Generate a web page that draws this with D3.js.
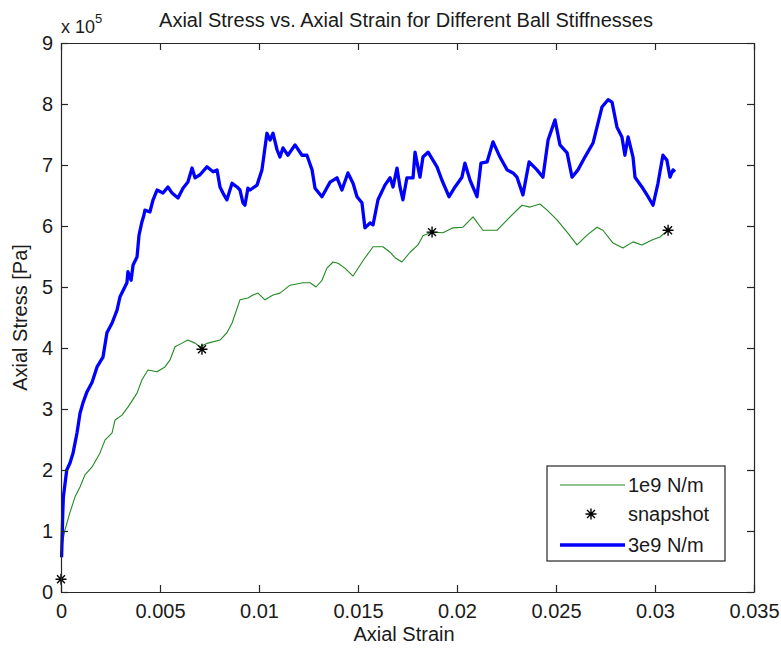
<!DOCTYPE html>
<html>
<head>
<meta charset="utf-8">
<script src="https://cdn.jsdelivr.net/npm/d3@7"></script>
<style>
  html, body { margin: 0; padding: 0; background: #fff; }
  svg { display: block; font-family: "Liberation Sans", Arial, sans-serif; }
</style>
</head>
<body>
<svg id="chart" width="781" height="649"></svg>
<script>
// Axial strain (x) and axial stress in units of 1e5 Pa (y)
const soft1e9Strain = [0, 0.0001, 0.0002, 0.00045, 0.00071, 0.00096, 0.00121, 0.00157, 0.00197, 0.00222,
  0.00258, 0.00273, 0.00308, 0.00338, 0.00384, 0.00409, 0.00439, 0.00485, 0.00525, 0.0055,
  0.00576, 0.00611, 0.00641, 0.00677, 0.00702, 0.00742, 0.00803, 0.00838, 0.00864, 0.00904,
  0.00944, 0.0097, 0.00995, 0.0103, 0.01071, 0.01106, 0.01157, 0.01222, 0.01258, 0.01288,
  0.01318, 0.01343, 0.01374, 0.01399, 0.01434, 0.01475, 0.01525, 0.01576, 0.01626, 0.01662,
  0.01687, 0.01722, 0.01763, 0.01803, 0.01828, 0.01874, 0.01929, 0.0198, 0.0203, 0.02081,
  0.02131, 0.02202, 0.02268, 0.02328, 0.02369, 0.02419, 0.02455, 0.02505, 0.02556, 0.02606,
  0.02657, 0.02707, 0.02737, 0.02788, 0.02838, 0.02889, 0.02934, 0.02985, 0.03025, 0.03066];
const soft1e9Stress = [0.61, 0.85, 1.02, 1.30, 1.56, 1.72, 1.92, 2.05, 2.28, 2.49,
  2.61, 2.82, 2.90, 3.03, 3.26, 3.48, 3.64, 3.61, 3.69, 3.80,
  4.02, 4.08, 4.13, 4.08, 4.02, 4.08, 4.13, 4.25, 4.41, 4.79,
  4.82, 4.87, 4.90, 4.79, 4.87, 4.90, 5.03, 5.07, 5.07, 5.00,
  5.11, 5.31, 5.41, 5.39, 5.31, 5.18, 5.43, 5.66, 5.66, 5.57,
  5.48, 5.41, 5.57, 5.69, 5.84, 5.90, 5.89, 5.97, 5.98, 6.15,
  5.93, 5.93, 6.15, 6.34, 6.31, 6.36, 6.26, 6.10, 5.90, 5.69,
  5.85, 5.98, 5.93, 5.72, 5.64, 5.74, 5.69, 5.77, 5.82, 5.93];

const stiff3e9Strain = [0.00003, 0.00009, 0.00012, 0.00029, 0.00045, 0.00061, 0.00081, 0.00096, 0.00111, 0.00131,
  0.00157, 0.00182, 0.00212, 0.00232, 0.00258, 0.00283, 0.00298, 0.00333, 0.00338, 0.00354,
  0.00364, 0.00384, 0.00394, 0.00409, 0.00419, 0.00424, 0.00449, 0.00465, 0.00485, 0.00515,
  0.0054, 0.00561, 0.00591, 0.00616, 0.00641, 0.00662, 0.00677, 0.00702, 0.00737, 0.00768,
  0.00788, 0.00803, 0.00823, 0.00838, 0.00864, 0.00889, 0.00904, 0.00919, 0.00929, 0.00944,
  0.00955, 0.0099, 0.01015, 0.0104, 0.01056, 0.01071, 0.01091, 0.01106, 0.01121, 0.01146,
  0.01182, 0.01217, 0.01242, 0.01268, 0.01283, 0.01318, 0.01359, 0.01394, 0.01419, 0.01449,
  0.01475, 0.01495, 0.0152, 0.01535, 0.01561, 0.01576, 0.01601, 0.01636, 0.01662, 0.01677,
  0.01697, 0.01712, 0.01727, 0.01747, 0.01778, 0.01788, 0.01813, 0.01828, 0.01854, 0.01899,
  0.01924, 0.0196, 0.0199, 0.02025, 0.0204, 0.02066, 0.02101, 0.02121, 0.02152, 0.02182,
  0.02217, 0.02253, 0.02283, 0.02303, 0.02333, 0.02364, 0.02404, 0.02434, 0.0246, 0.02495,
  0.0252, 0.02556, 0.02581, 0.02611, 0.02646, 0.02687, 0.02732, 0.02763, 0.02783, 0.02808,
  0.02833, 0.02848, 0.02864, 0.02889, 0.02899, 0.02934, 0.02965, 0.0299, 0.03015, 0.0304,
  0.0306, 0.03076, 0.03091, 0.03101];
const stiff3e9Stress = [0.57, 1.30, 1.56, 2.00, 2.11, 2.28, 2.61, 2.93, 3.10, 3.28,
  3.44, 3.69, 3.85, 4.25, 4.41, 4.62, 4.84, 5.07, 5.25, 5.11,
  5.36, 5.49, 5.85, 6.07, 6.18, 6.26, 6.23, 6.43, 6.59, 6.54,
  6.64, 6.54, 6.46, 6.62, 6.72, 6.95, 6.79, 6.84, 6.97, 6.89,
  6.92, 6.64, 6.51, 6.43, 6.70, 6.64, 6.59, 6.38, 6.34, 6.62,
  6.59, 6.67, 6.92, 7.52, 7.41, 7.52, 7.25, 7.13, 7.28, 7.16,
  7.33, 7.16, 7.16, 6.92, 6.62, 6.48, 6.72, 6.79, 6.59, 6.87,
  6.70, 6.48, 6.38, 5.97, 6.05, 6.02, 6.43, 6.67, 6.79, 6.64,
  6.95, 6.64, 6.43, 6.79, 6.79, 7.21, 6.80, 7.13, 7.21, 6.97,
  6.75, 6.48, 6.64, 6.80, 7.03, 6.75, 6.48, 7.03, 7.05, 7.38,
  7.13, 6.92, 6.87, 6.80, 6.51, 7.05, 6.92, 6.80, 7.41, 7.74,
  7.33, 7.20, 6.80, 6.92, 7.13, 7.36, 7.95, 8.07, 8.03, 7.62,
  7.46, 7.16, 7.46, 7.13, 6.80, 6.64, 6.48, 6.34, 6.70, 7.16,
  7.08, 6.80, 6.92, 6.89];

const snapshotStrain = [0, 0.00712, 0.01874, 0.03066];
const snapshotStress = [0.21, 3.98, 5.90, 5.93];

const xTicks = [0, 0.005, 0.01, 0.015, 0.02, 0.025, 0.03, 0.035];
const xTickLabels = ["0", "0.005", "0.01", "0.015", "0.02", "0.025", "0.03", "0.035"];
const yTicks = [0, 1, 2, 3, 4, 5, 6, 7, 8, 9];
const yTickLabels = ["0", "1", "2", "3", "4", "5", "6", "7", "8", "9"];

const legendLabels = ["1e9 N/m", "snapshot", "3e9 N/m"];

const GREEN = "#218a21";
const BLUE = "#0000ff";
const AXIS = "#262626";
const TEXT = "#1a1a1a";
const FONT = "20px";

const svg = d3.select("#chart");
const plotL = 61, plotR = 754, plotT = 43, plotB = 592;

const x = d3.scaleLinear().domain([0, 0.035]).range([plotL, plotR]);
const y = d3.scaleLinear().domain([0, 9]).range([plotB, plotT]);

svg.append("rect").attr("width", 781).attr("height", 649).attr("fill", "#fff");

const zip = (a, b) => a.map((v, i) => [v, b[i]]);
const line = d3.line().x(d => x(d[0])).y(d => y(d[1]));

// curves
svg.append("path")
  .attr("d", line(zip(soft1e9Strain, soft1e9Stress)))
  .attr("fill", "none").attr("stroke", GREEN).attr("stroke-width", 1.1)
  .attr("stroke-linejoin", "round");

svg.append("path")
  .attr("d", line(zip(stiff3e9Strain, stiff3e9Stress)))
  .attr("fill", "none").attr("stroke", BLUE).attr("stroke-width", 3.3)
  .attr("stroke-linejoin", "round");

// asterisk marker
function asterisk(g, cx, cy, r) {
  const d = r * 0.72;
  const p = `M${cx - r},${cy}L${cx + r},${cy}M${cx},${cy - r}L${cx},${cy + r}` +
            `M${cx - d},${cy - d}L${cx + d},${cy + d}M${cx - d},${cy + d}L${cx + d},${cy - d}`;
  g.append("path").attr("d", p).attr("stroke", "#000").attr("stroke-width", 1.4).attr("fill", "none");
}
const markers = svg.append("g");
zip(snapshotStrain, snapshotStress).forEach(d => asterisk(markers, x(d[0]), y(d[1]), 5.5));

// axes with inward ticks on all four sides
const tickLen = 7;
const xAxisB = d3.axisBottom(x).tickValues(xTicks).tickSizeInner(-tickLen).tickSizeOuter(0)
  .tickPadding(12).tickFormat((d, i) => xTickLabels[i]);
const xAxisT = d3.axisTop(x).tickValues(xTicks).tickSizeInner(-tickLen).tickSizeOuter(0).tickFormat("");
const yAxisL = d3.axisLeft(y).tickValues(yTicks).tickSizeInner(-tickLen).tickSizeOuter(0)
  .tickPadding(8).tickFormat((d, i) => yTickLabels[i]);
const yAxisR = d3.axisRight(y).tickValues(yTicks).tickSizeInner(-tickLen).tickSizeOuter(0).tickFormat("");

function styleAxis(g) {
  g.selectAll("path.domain").attr("stroke", AXIS).attr("stroke-width", 1.2);
  g.selectAll(".tick line").attr("stroke", AXIS).attr("stroke-width", 1.2);
  g.selectAll("text").attr("fill", TEXT).style("font-size", FONT)
    .style("font-family", "'Liberation Sans', Arial, sans-serif");
}
svg.append("g").attr("transform", `translate(0,${plotB})`).call(xAxisB).call(styleAxis);
svg.append("g").attr("transform", `translate(0,${plotT})`).call(xAxisT).call(styleAxis);
svg.append("g").attr("transform", `translate(${plotL},0)`).call(yAxisL).call(styleAxis);
svg.append("g").attr("transform", `translate(${plotR},0)`).call(yAxisR).call(styleAxis);

// exponent label
const expo = svg.append("text").attr("x", 61).attr("y", 33)
  .style("font-size", "18px").attr("fill", TEXT);
expo.append("tspan").text("x 10");
expo.append("tspan").attr("dy", -10).style("font-size", "13px").text("5");

// title and axis labels
svg.append("text").attr("x", 406).attr("y", 27).attr("text-anchor", "middle")
  .style("font-size", FONT).attr("fill", TEXT)
  .text("Axial Stress vs. Axial Strain for Different Ball Stiffnesses");
svg.append("text").attr("x", 404).attr("y", 641).attr("text-anchor", "middle")
  .style("font-size", FONT).attr("fill", TEXT).text("Axial Strain");
svg.append("text").attr("transform", `translate(27,${(plotT + plotB) / 2}) rotate(-90)`)
  .attr("text-anchor", "middle").style("font-size", FONT).attr("fill", TEXT)
  .text("Axial Stress [Pa]");

// legend
const lg = svg.append("g");
lg.append("rect").attr("x", 547).attr("y", 466).attr("width", 178).attr("height", 95)
  .attr("fill", "#fff").attr("stroke", AXIS).attr("stroke-width", 1.2);
const rows = [485, 514, 545];
lg.append("line").attr("x1", 560).attr("x2", 625).attr("y1", rows[0]).attr("y2", rows[0])
  .attr("stroke", GREEN).attr("stroke-width", 1.1);
asterisk(lg, 591, rows[1], 5.5);
lg.append("line").attr("x1", 560).attr("x2", 625).attr("y1", rows[2]).attr("y2", rows[2])
  .attr("stroke", BLUE).attr("stroke-width", 3.3);
legendLabels.forEach((t, i) => {
  lg.append("text").attr("x", 628).attr("y", rows[i]).attr("dy", "0.35em")
    .style("font-size", FONT).attr("fill", TEXT).text(t);
});
</script>
</body>
</html>
